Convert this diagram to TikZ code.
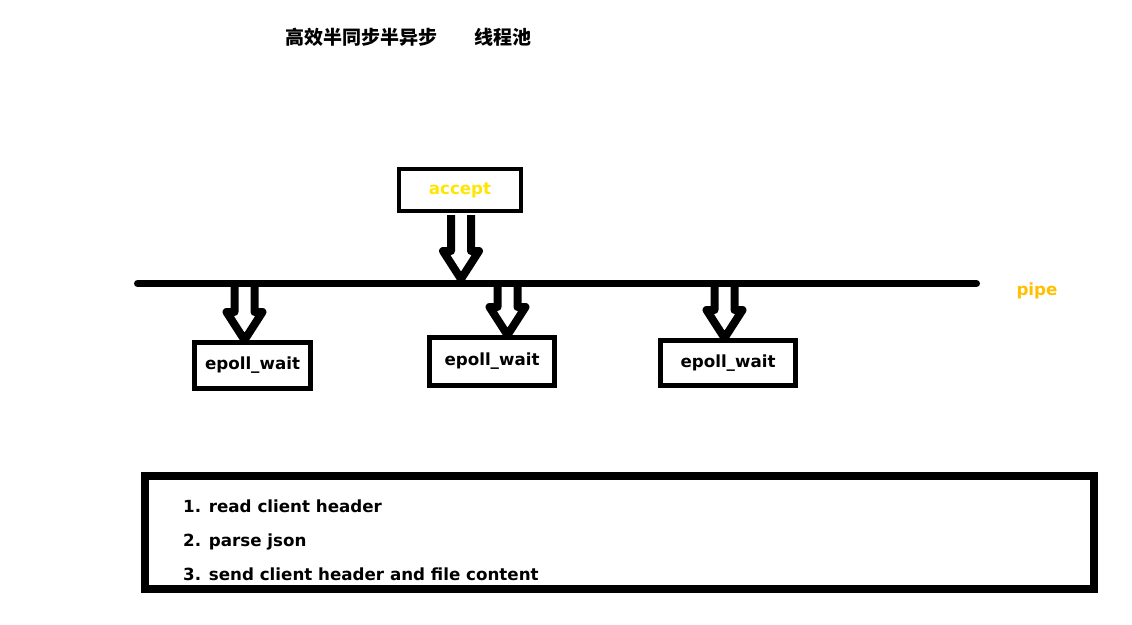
\documentclass[tikz,border=0pt]{standalone}
\usepackage{fontspec}
\setmainfont{DejaVu Sans}
\newfontfamily\cjk{Noto Sans CJK SC}
\usetikzlibrary{calc}
\definecolor{acceptyellow}{RGB}{255,230,0}
\definecolor{pipeorange}{RGB}{255,192,0}
\newcommand{\hollowarrow}[2]{%
  \draw[harrow] ($(#1)+(-10,0)$) -- ($(#2)+(-10,-28)$) -- ($(#2)+(-18,-28)$) -- (#2)
    -- ($(#2)+(18,-28)$) -- ($(#2)+(10,-28)$) -- ($(#1)+(10,0)$);}
\begin{document}
\begin{tikzpicture}[x=1pt,y=-1pt,
  lbl/.style={font=\bfseries\fontsize{16.7}{20}\selectfont, inner sep=0pt},
  box/.style={draw, line width=5pt, inner sep=0pt, font=\bfseries\fontsize{16.7}{20}\selectfont},
  harrow/.style={draw, line width=8pt, line join=round},
  ttl/.style={font=\cjk\bfseries\fontsize{19}{20}\selectfont, inner sep=0pt, anchor=west}]
\useasboundingbox[fill=white] (0,0) rectangle (1132,624);
% title
\node[ttl] (title) at (285,37) {高效半同步半异步};
\node[ttl] (pool) at (474,37) {线程池};
% accept box
\node[box, line width=4pt, minimum width=122pt, minimum height=42pt, text=acceptyellow] (accept) at (460,190) {accept};
\path (accept.south) ++(0,2) coordinate (a0);
% pipe line
\coordinate (pipeL) at (137.5,283.5);
\coordinate (pipeR) at (976.5,283.5);
\draw[line width=7pt, line cap=round] (pipeL) -- (pipeR);
\node[lbl, text=pipeorange, anchor=base] (pipe) at (1037,295) {pipe};
% epoll boxes
\node[box, minimum width=116pt, minimum height=46pt] (ep1) at (252.5,365.5) {epoll\_wait};
\node[box, minimum width=125pt, minimum height=48pt] (ep2) at (492,361.5) {epoll\_wait};
\node[box, minimum width=135pt, minimum height=45pt] (ep3) at (728,363) {epoll\_wait};
% arrows
\coordinate (a1) at (461,279);
\hollowarrow{a0 -| a1}{a1}
\coordinate (s1) at (244.5,283.5);
\coordinate (s2) at (507.5,283.5);
\coordinate (s3) at (724.5,283.5);
\coordinate (t1) at (s1 |- ep1.north);
\coordinate (t2) at (s2 |- ep2.north);
\coordinate (t3) at (s3 |- ep3.north);
\hollowarrow{s1}{t1}
\hollowarrow{s2}{t2}
\hollowarrow{s3}{t3}
% bottom box
\node[draw, line width=8pt, minimum width=949pt, minimum height=113pt, inner sep=0pt] (tasks) at (619.5,532.5) {};
\node[lbl, anchor=base west] (step1) at (183,512) {1. read client header};
\node[lbl, anchor=base west] (step2) at (183,546) {2. parse json};
\node[lbl, anchor=base west] (step3) at (183,580) {3. send client header and file content};
\end{tikzpicture}
\end{document}
